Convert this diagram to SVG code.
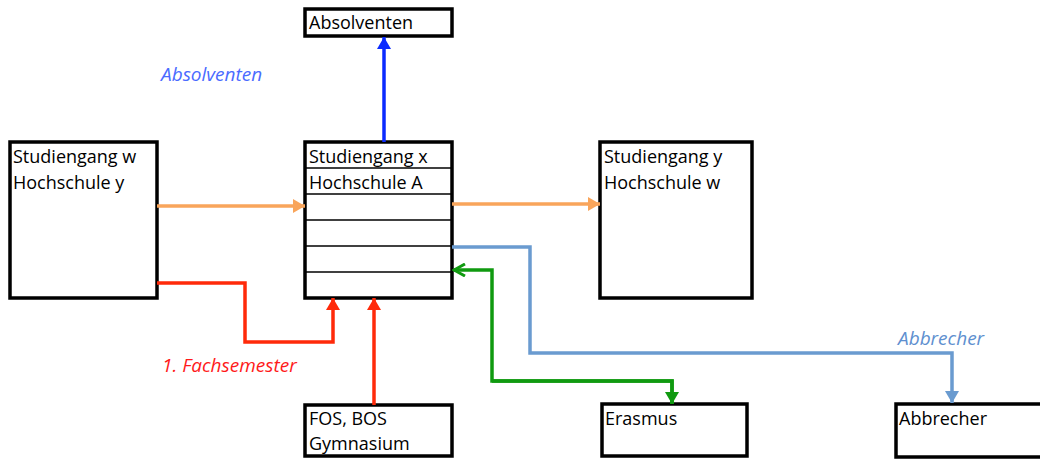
<svg xmlns="http://www.w3.org/2000/svg" width="1040" height="459" viewBox="0 0 1040 459">
<style>
.box{fill:#fff;stroke:#000;stroke-width:3.5}
.row{stroke:#000;stroke-width:1.5}
.t{font-family:"Open Sans","Liberation Sans",sans-serif;font-size:18px;fill:#000}
.lbl{font-family:"Open Sans","Liberation Sans",sans-serif;font-size:19px;font-style:italic}
.c{fill:none;stroke-width:3.5;stroke-linejoin:miter}
</style>
<defs>
<marker id="aO" markerUnits="userSpaceOnUse" markerWidth="14" markerHeight="14" refX="12" refY="7" orient="auto"><path d="M0,0 L12,7 L0,14 Z" fill="#F9A55B"/></marker>
<marker id="aR" markerUnits="userSpaceOnUse" markerWidth="14" markerHeight="14" refX="12" refY="7" orient="auto"><path d="M0,0 L12,7 L0,14 Z" fill="#FF2A0A"/></marker>
<marker id="aB" markerUnits="userSpaceOnUse" markerWidth="14" markerHeight="14" refX="12" refY="7" orient="auto"><path d="M0,0 L12,7 L0,14 Z" fill="#0B2BFF"/></marker>
<marker id="aS" markerUnits="userSpaceOnUse" markerWidth="14" markerHeight="14" refX="12" refY="7" orient="auto"><path d="M0,0 L12,7 L0,14 Z" fill="#6A9BD0"/></marker>
<marker id="aG" markerUnits="userSpaceOnUse" markerWidth="14" markerHeight="14" refX="12" refY="7" orient="auto"><path d="M0,0 L12,7 L0,14 Z" fill="#109A10"/></marker>
<marker id="aGs" markerUnits="userSpaceOnUse" markerWidth="14" markerHeight="14" refX="12" refY="7" orient="auto"><path d="M1,1 L12,7 L1,13" fill="none" stroke="#109A10" stroke-width="3"/></marker>
</defs>
<rect width="1040" height="459" fill="#fff"/>

<g id="absolventen">
<rect class="box" x="305" y="9" width="147" height="27"/>
<text class="t" x="309" y="29">Absolventen</text>
</g>

<g id="studiengang-w">
<rect class="box" x="10" y="142" width="147" height="156"/>
<text class="t" x="13" y="163">Studiengang w</text>
<text class="t" x="13" y="189">Hochschule y</text>
</g>

<g id="studiengang-x">
<rect class="box" x="305" y="142" width="147" height="156"/>
<line class="row" x1="305" y1="168" x2="452" y2="168"/>
<line class="row" x1="305" y1="194" x2="452" y2="194"/>
<line class="row" x1="305" y1="220" x2="452" y2="220"/>
<line class="row" x1="305" y1="246" x2="452" y2="246"/>
<line class="row" x1="305" y1="272" x2="452" y2="272"/>
<text class="t" x="309" y="163">Studiengang x</text>
<text class="t" x="309" y="189">Hochschule A</text>
</g>

<g id="studiengang-y">
<rect class="box" x="600" y="142" width="152" height="156"/>
<text class="t" x="604" y="163">Studiengang y</text>
<text class="t" x="604" y="189">Hochschule w</text>
</g>

<g id="fos-bos">
<rect class="box" x="305" y="405" width="147" height="51"/>
<text class="t" x="309" y="425">FOS, BOS</text>
<text class="t" x="309" y="450">Gymnasium</text>
</g>

<g id="erasmus">
<rect class="box" x="602" y="404" width="145" height="52"/>
<text class="t" x="605" y="425">Erasmus</text>
</g>

<g id="abbrecher">
<rect class="box" x="896" y="404" width="150" height="53"/>
<text class="t" x="899" y="425">Abbrecher</text>
</g>

<g id="connectors">
<path class="c" stroke="#F9A55B" d="M157,206 H305" marker-end="url(#aO)"/>
<path class="c" stroke="#F9A55B" d="M452,204 H600" marker-end="url(#aO)"/>
<path class="c" stroke="#FF2A0A" d="M157,283 H245 V342 H333 V298" marker-end="url(#aR)"/>
<path class="c" stroke="#FF2A0A" d="M374,405 V298" marker-end="url(#aR)"/>
<path class="c" stroke="#0B2BFF" d="M384,142 V37" marker-end="url(#aB)"/>
<path class="c" stroke="#6A9BD0" d="M452,247 H530 V353 H952 V403" marker-end="url(#aS)"/>
<path class="c" stroke="#109A10" d="M672,404 V381 H492 V270 H454" marker-end="url(#aGs)"/>
<path class="c" stroke="#109A10" d="M492,381 H672 V404" marker-end="url(#aG)"/>
</g>

<g id="labels">
<text class="lbl" x="161" y="81" fill="#4A6BFF">Absolventen</text>
<text class="lbl" x="162" y="372" fill="#FF1A1A">1. Fachsemester</text>
<text class="lbl" x="898" y="345" fill="#5E8FCF">Abbrecher</text>
</g>
</svg>
